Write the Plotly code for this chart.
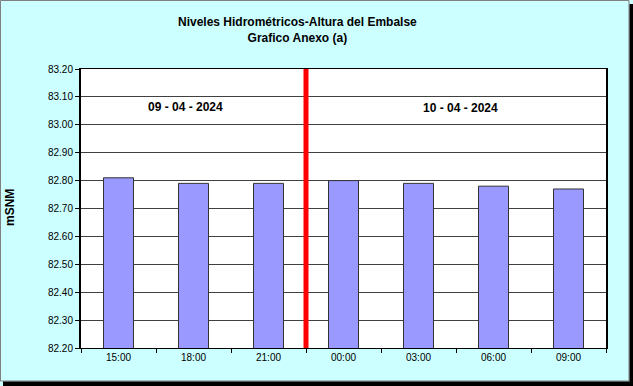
import plotly.graph_objects as go

categories = ["15:00", "18:00", "21:00", "00:00", "03:00", "06:00", "09:00"]
levels = [82.81, 82.79, 82.79, 82.80, 82.79, 82.78, 82.77]
day_labels = ["09 - 04 - 2024", "10 - 04 - 2024"]
title_lines = ["Niveles Hidrométricos-Altura del Embalse", "Grafico Anexo (a)"]

W, H = 633, 386
L, R, T, B = 81, 606, 69, 348

def px(x):
    return (x - L) / (R - L)

def py(y):
    return (B - y) / (B - T)

fig = go.Figure()
fig.add_trace(go.Bar(
    x=categories, y=levels, width=0.4,
    marker=dict(color="#9999FF", line=dict(color="#333333", width=1)),
    hoverinfo="x+y",
))

font = "Arial, Liberation Sans, sans-serif"

shapes = [
    dict(type="line", xref="x", yref="paper", x0=2.5, x1=2.5, y0=0, y1=1,
         line=dict(color="#FF0000", width=5), layer="above"),
    dict(type="rect", xref="paper", yref="paper", x0=px(0.5), x1=px(629), y0=py(0.5), y1=py(381),
         line=dict(color="#808080", width=1), layer="below"),
    dict(type="rect", xref="paper", yref="paper", x0=px(629.5), x1=px(634), y0=py(4), y1=py(387),
         line=dict(width=0), fillcolor="#000000", layer="below"),
    dict(type="rect", xref="paper", yref="paper", x0=px(3), x1=px(634), y0=py(381.5), y1=py(387),
         line=dict(width=0), fillcolor="#000000", layer="below"),
]

annotations = [
    dict(text="<b>" + title_lines[0] + "</b><br><b>" + title_lines[1] + "</b>",
         xref="paper", yref="paper", x=px(297), y=py(30), showarrow=False,
         font=dict(family=font, size=12, color="#000000"), xanchor="center", yanchor="middle"),
    dict(text="<b>" + day_labels[0] + "</b>", xref="paper", yref="paper", x=px(185), y=py(107),
         showarrow=False, font=dict(family=font, size=12, color="#000000"),
         xanchor="center", yanchor="middle"),
    dict(text="<b>" + day_labels[1] + "</b>", xref="paper", yref="paper", x=px(460), y=py(108),
         showarrow=False, font=dict(family=font, size=12, color="#000000"),
         xanchor="center", yanchor="middle"),
    dict(text="<b>mSNM</b>", xref="paper", yref="paper", x=px(10), y=py(208), textangle=-90,
         showarrow=False, font=dict(family=font, size=12, color="#000000"),
         xanchor="center", yanchor="middle"),
]

fig.update_layout(
    width=W, height=H,
    margin=dict(l=L, r=W - R, t=T, b=H - B, pad=0),
    paper_bgcolor="#CCFFFF",
    plot_bgcolor="#FFFFFF",
    showlegend=False,
    shapes=shapes,
    annotations=annotations,
    font=dict(family=font, size=10, color="#000000"),
    xaxis=dict(
        type="category", range=[-0.5, 6.5], showgrid=False,
        showline=True, linecolor="#000000", linewidth=1, mirror=True,
        ticks="outside", tickson="boundaries", ticklen=4, tickcolor="#000000",
        tickfont=dict(family=font, size=10),
    ),
    yaxis=dict(
        range=[82.2, 83.2], dtick=0.1, tick0=82.2, tickformat=".2f",
        showgrid=True, gridcolor="#404040", gridwidth=1,
        showline=True, linecolor="#000000", linewidth=2, mirror=True,
        ticks="outside", ticklen=4, tickcolor="#000000",
        tickfont=dict(family=font, size=10), zeroline=False,
    ),
)

fig.write_html("out.html", config={"displayModeBar": False},
               post_script="document.body.style.margin='0';document.body.style.overflow='hidden';")
